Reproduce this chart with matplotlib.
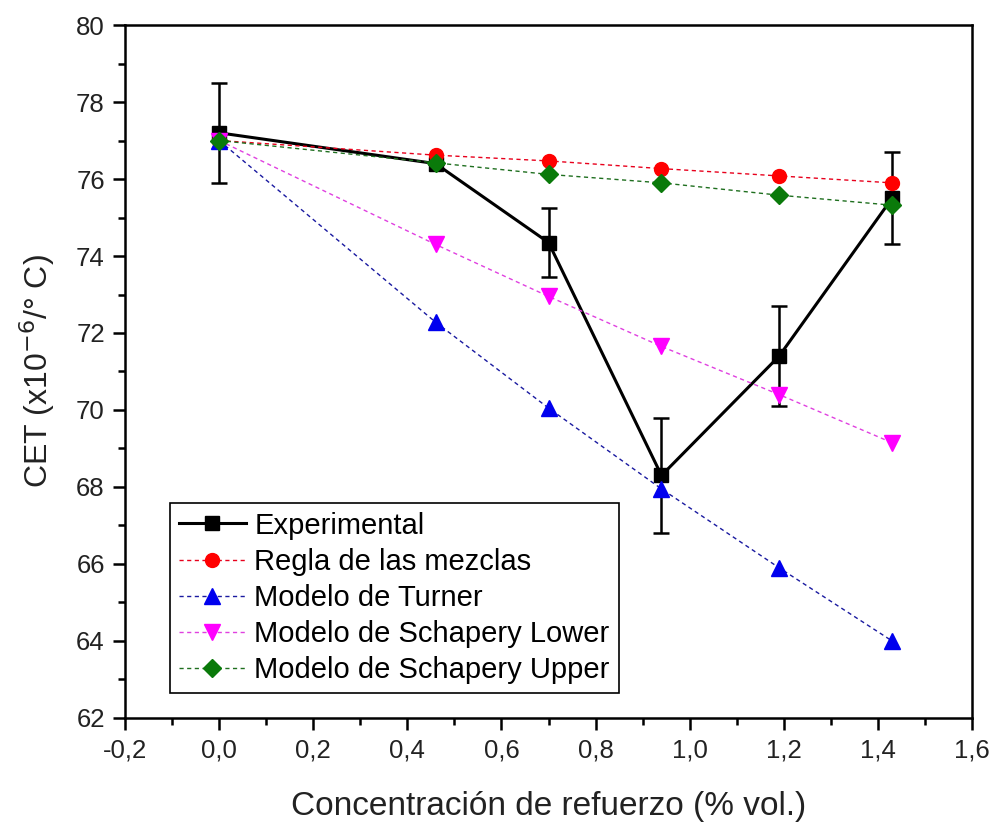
import matplotlib
matplotlib.use("Agg")
from matplotlib import pyplot as plt
from matplotlib.ticker import MultipleLocator, FuncFormatter

plt.rcParams['font.family'] = ['Liberation Sans', 'DejaVu Sans']

conc = [0.0, 0.46, 0.70, 0.94, 1.19, 1.43]

exp_cet = [77.2, 76.4, 74.35, 68.3, 71.4, 75.5]
exp_err = [1.3, 0.0, 0.9, 1.5, 1.3, 1.2]

regla = [77.0, 76.62, 76.47, 76.27, 76.08, 75.9]
turner = [77.0, 72.28, 70.05, 67.95, 65.9, 64.0]
schap_lower = [77.0, 74.3, 72.95, 71.65, 70.4, 69.15]
schap_upper = [77.0, 76.42, 76.12, 75.9, 75.58, 75.32]

fig = plt.figure(figsize=(9.95, 8.26), dpi=100)
ax = fig.add_axes([0.1256, 0.1308, 0.8514, 0.8389])

dash = (0, (3, 2.5))

ax.errorbar(conc, exp_cet, yerr=exp_err, fmt='none', ecolor='black',
            elinewidth=1.8, capsize=5.5, capthick=1.8, zorder=3)
ax.plot(conc, exp_cet, color='black', lw=2.2, marker='s', ms=10,
        label='Experimental', zorder=3)
ax.plot(conc, regla, color='#e8001c', lw=1, ls=dash, marker='o', ms=10,
        mfc='red', mec='red', label='Regla de las mezclas', zorder=4)
ax.plot(conc, turner, color='#1a1aa0', lw=1, ls=dash, marker='^', ms=11,
        mfc='#0000ee', mec='#0000ee', label='Modelo de Turner', zorder=4)
ax.plot(conc, schap_lower, color='#e040e0', lw=1, ls=dash, marker='v', ms=11,
        mfc='#ff00ff', mec='#ff00ff', label='Modelo de Schapery Lower', zorder=4)
ax.plot(conc, schap_upper, color='#1f6f1f', lw=1, ls=dash, marker='D', ms=9,
        mfc='#0a7a0a', mec='#0a7a0a', label='Modelo de Schapery Upper', zorder=4)

ax.set_xlim(-0.2, 1.6)
ax.set_ylim(62, 80)
ax.xaxis.set_major_locator(MultipleLocator(0.2))
ax.xaxis.set_minor_locator(MultipleLocator(0.1))
ax.yaxis.set_major_locator(MultipleLocator(2))
ax.yaxis.set_minor_locator(MultipleLocator(1))
ax.xaxis.set_major_formatter(FuncFormatter(lambda v, p: ('%.1f' % v).replace('.', ',')))
ax.yaxis.set_major_formatter(FuncFormatter(lambda v, p: '%d' % round(v)))

for s in ax.spines.values():
    s.set_linewidth(1.8)
ax.tick_params(which='major', direction='out', length=8.5, width=1.8,
               labelsize=18.5, colors='black', labelcolor='#222222', pad=6)
ax.tick_params(which='minor', direction='out', length=5, width=1.8)

ax.set_xlabel('Concentración de refuerzo (% vol.)', fontsize=24, labelpad=21,
              color='#222222')
ax.set_ylabel('CET (x10$^{-6}$/° C)', fontsize=23, labelpad=14, color='#222222')

leg = ax.legend(loc='lower left', bbox_to_anchor=(0.053, 0.036), fontsize=21,
                frameon=True, fancybox=False, edgecolor='black', framealpha=1,
                handlelength=2.3, borderpad=0.3, labelspacing=0.28,
                handletextpad=0.3, borderaxespad=0)
leg.get_frame().set_linewidth(1.2)

fig.savefig('out.png', dpi=100)
